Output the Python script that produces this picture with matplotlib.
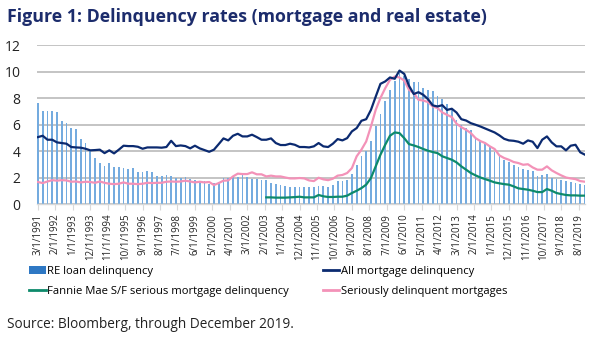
import numpy as np
import matplotlib
matplotlib.use("Agg")
import matplotlib.pyplot as plt
from matplotlib.lines import Line2D
from matplotlib.patches import Patch

plt.rcParams['font.family'] = ['Open Sans', 'DejaVu Sans']

# Quarterly observations, first = March 1991, last = December 2019
start_year, start_month = 1991, 3

re_loan = [7.6, 7.05, 7.05, 7.0, 6.97, 6.3, 6.1, 5.76, 5.63, 4.9, 4.6, 4.08, 3.45, 3.12, 2.87, 3.07,
           2.82, 2.77, 2.69, 2.64, 2.72, 2.44, 2.44, 2.49, 2.44, 2.14, 2.09, 2.19, 2.14, 1.99, 1.99, 2.04,
           1.89, 1.79, 1.76, 1.71, 1.53, 1.56, 1.64, 1.94, 1.99, 2.14, 2.06, 2.19, 2.06, 1.86, 1.86, 1.81,
           1.81, 1.56, 1.51, 1.43, 1.38, 1.31, 1.31, 1.31,
           1.25, 1.25, 1.28, 1.38, 1.33, 1.25, 1.4, 1.7, 1.75, 1.83, 2.26, 2.96, 3.6, 4.0, 4.72, 5.9,
           6.8, 7.8, 8.57, 9.25, 9.87, 9.67, 9.42, 9.2, 9.2, 8.74, 8.6, 8.54, 8.17, 7.94, 7.56, 7.1,
           6.36, 5.98, 5.75, 5.6, 4.95, 4.72, 4.55, 4.3, 3.94, 3.64, 3.34, 3.14, 2.96, 2.76, 2.64, 2.59,
           2.46, 2.14, 2.19, 2.24, 1.98, 1.9, 1.81, 1.76, 1.66, 1.58, 1.5, 1.46]

all_mortgage = [5.05, 5.15, 4.85, 4.85, 4.65, 4.6, 4.55, 4.3, 4.27, 4.25, 4.17, 4.05, 4.07, 4.1, 3.84, 4.05,
                3.82, 4.1, 4.4, 4.37, 4.37, 4.32, 4.17, 4.27, 4.27, 4.27, 4.25, 4.3, 4.77, 4.37, 4.42, 4.37,
                4.2, 4.4, 4.2, 4.07, 3.94, 4.1, 4.52, 4.95, 4.8, 5.15, 5.3, 5.1, 5.1, 5.23, 5.05, 4.85,
                4.85, 4.95, 4.6, 4.45, 4.45, 4.55, 4.47, 4.3,
                4.3, 4.27, 4.35, 4.6, 4.35, 4.3, 4.55, 4.9, 4.8, 4.97, 5.48, 5.73, 6.28, 6.4, 7.1, 8.1,
                9.07, 9.25, 9.55, 9.45, 10.07, 9.82, 8.92, 8.3, 8.44, 8.24, 7.91, 7.44, 7.36, 7.46, 7.1, 7.19,
                6.9, 6.4, 6.3, 6.1, 5.98, 5.85, 5.7, 5.55, 5.4, 5.18, 4.92, 4.8, 4.77, 4.7, 4.55, 4.8,
                4.7, 4.22, 4.85, 5.1, 4.65, 4.35, 4.35, 4.05, 4.4, 4.47, 3.9, 3.72]

serious_mortgages = [1.66, 1.58, 1.7, 1.8, 1.76, 1.8, 1.78, 1.68, 1.7, 1.63, 1.68, 1.66, 1.6, 1.7, 1.6, 1.53,
                     1.5, 1.53, 1.63, 1.53, 1.53, 1.5, 1.53, 1.6, 1.58, 1.6, 1.6, 1.68, 1.7, 1.68, 1.7, 1.76,
                     1.7, 1.63, 1.68, 1.63, 1.66, 1.43, 1.58, 1.76, 1.78, 2.08, 2.29, 2.26, 2.26, 2.39, 2.24, 2.24,
                     2.08, 2.14, 2.08, 2.08, 2.0, 1.93, 1.93, 1.96,
                     1.93, 1.78, 1.73, 1.98, 1.86, 1.8, 1.91, 2.14, 2.19, 2.34, 2.71, 3.6, 4.1, 4.72, 5.85, 7.1,
                     8.0, 8.74, 9.37, 9.62, 9.55, 9.32, 8.62, 8.37, 7.86, 7.81, 7.69, 7.36, 7.24, 6.91, 6.73, 6.56,
                     6.06, 5.8, 5.6, 5.35, 4.97, 4.75, 4.6, 4.35, 4.15, 3.67, 3.47, 3.34, 3.17, 3.09, 2.96, 3.0,
                     2.76, 2.59, 2.59, 2.84, 2.54, 2.34, 2.16, 2.0, 1.93, 1.88, 1.73, 1.68]

# Fannie Mae series begins March 2003 (quarter index 48)
fannie_start_q = 48
fannie_mae = [0.5, 0.5, 0.48, 0.48, 0.48, 0.5, 0.52, 0.55,
              0.5, 0.5, 0.5, 0.68, 0.58, 0.53, 0.53, 0.55, 0.55, 0.63, 0.83, 1.0, 1.2, 1.46, 1.96, 2.84,
              3.72, 4.47, 5.15, 5.4, 5.35, 4.97, 4.52, 4.42, 4.3, 4.15, 4.02, 3.92, 3.84, 3.6, 3.47, 3.34,
              3.14, 2.84, 2.59, 2.34, 2.16, 2.0, 1.88, 1.76, 1.63, 1.56, 1.5, 1.46, 1.33, 1.18, 1.13, 1.08,
              1.0, 0.9, 0.9, 1.13, 1.0, 0.83, 0.75, 0.68, 0.65, 0.65, 0.63, 0.63]

# Category labels every 11 months from March 1991
tick_step_months = 11
n_months = 346  # Mar 1991 .. Dec 2019

def month_label(m):
    mm = (start_month - 1 + m) % 12 + 1
    yy = start_year + (start_month - 1 + m) // 12
    return f"{mm}/1/{yy}"

tick_pos = list(range(0, n_months, tick_step_months))
tick_labels = [month_label(m) for m in tick_pos]

q_x = np.arange(len(re_loan)) * 3
fannie_x = (np.arange(len(fannie_mae)) + fannie_start_q) * 3

NAVY = '#0b2a70'
GREEN = '#0d8a6b'
PINK = '#f392b8'
BAR = '#74abdf'
TITLE = '#1c2c6c'

fig = plt.figure(figsize=(6.0, 3.41), dpi=100)
ax = fig.add_axes([37/600, 1 - 204/341, (585 - 37)/600, (204 - 45)/341])

ax.bar(q_x, re_loan, width=1.1, color=BAR, linewidth=0, zorder=2)
ax.plot(q_x, all_mortgage, color=NAVY, lw=1.6, zorder=4, solid_joinstyle='round')
ax.plot(fannie_x, fannie_mae, color=GREEN, lw=1.6, zorder=4, solid_joinstyle='round')
ax.plot(q_x, serious_mortgages, color=PINK, lw=1.6, zorder=3, solid_joinstyle='round')

ax.set_xlim(-0.6, n_months - 1)
ax.set_ylim(0, 12)
ax.set_yticks(range(0, 13, 2))
ax.yaxis.grid(True, color='#bfbfbf', lw=1.3, zorder=0)
ax.set_axisbelow(True)
for s in ['top', 'right', 'left']:
    ax.spines[s].set_visible(False)
ax.spines['bottom'].set_color('#d9d9d9')
ax.spines['bottom'].set_linewidth(1.0)
ax.tick_params(axis='y', length=0, pad=12, labelsize=10, labelcolor='#222222')
ax.set_xticks(tick_pos)
ax.set_xticklabels(tick_labels, rotation=90, fontsize=7, color='#222222')
ax.tick_params(axis='x', length=4, color='#d9d9d9', pad=3)

fig.text(7/600, 1 - 17/341, "Figure 1: Delinquency rates (mortgage and real estate)",
         fontsize=12.8, fontweight='bold', color=TITLE, va='center', ha='left')

handles = [Patch(facecolor='#2e78c4', edgecolor='none'),
           Line2D([], [], color=GREEN, lw=2),
           Line2D([], [], color=NAVY, lw=2),
           Line2D([], [], color=PINK, lw=2)]
labels = ["RE loan delinquency", "Fannie Mae S/F serious mortgage delinquency",
          "All mortgage delinquency", "Seriously delinquent mortgages"]
fig.legend(handles, labels, ncol=2, loc='upper left', bbox_to_anchor=(27/600, 1 - 264/341),
           frameon=False, fontsize=8.1, handlelength=1.45, handletextpad=0.15,
           columnspacing=3.0, labelspacing=0.8, borderaxespad=0, borderpad=0.2)

fig.text(7/600, 1 - 325/341, "Source: Bloomberg, through December 2019.",
         fontsize=9.8, color='#222222', va='center', ha='left')

fig.savefig("out.png", dpi=100)
